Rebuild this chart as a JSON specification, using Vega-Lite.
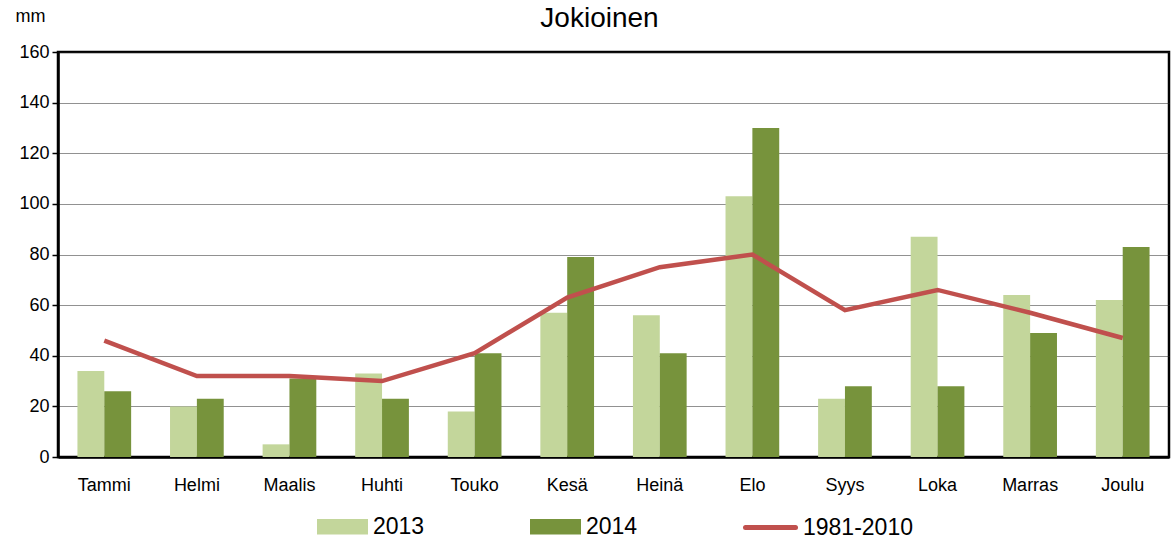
{
  "$schema": "https://vega.github.io/schema/vega-lite/v6.json",
  "width": 1111,
  "height": 405,
  "autosize": "none",
  "padding": {"left": 58, "top": 52, "right": 2, "bottom": 82},
  "background": "white",
  "title": {"text": "Jokioinen", "fontSize": 28, "font": "Liberation Sans", "fontWeight": "normal", "color": "#000", "anchor": "middle", "dx": -14, "offset": -26},
  "config": {
    "font": "Liberation Sans",
    "view": {"stroke": "#000", "strokeWidth": 2.5},
    "axis": {"labelFont": "Liberation Sans", "labelColor": "#000", "labelFontSize": 18},
    "legend": {"labelFont": "Liberation Sans", "labelColor": "#000", "labelFontSize": 23}
  },
  "datasets": {
    "bars": [
      {"month": "Tammi", "year": "2013", "value": 34}, {"month": "Tammi", "year": "2014", "value": 26},
      {"month": "Helmi", "year": "2013", "value": 20}, {"month": "Helmi", "year": "2014", "value": 23},
      {"month": "Maalis", "year": "2013", "value": 5}, {"month": "Maalis", "year": "2014", "value": 31},
      {"month": "Huhti", "year": "2013", "value": 33}, {"month": "Huhti", "year": "2014", "value": 23},
      {"month": "Touko", "year": "2013", "value": 18}, {"month": "Touko", "year": "2014", "value": 41},
      {"month": "Kesä", "year": "2013", "value": 57}, {"month": "Kesä", "year": "2014", "value": 79},
      {"month": "Heinä", "year": "2013", "value": 56}, {"month": "Heinä", "year": "2014", "value": 41},
      {"month": "Elo", "year": "2013", "value": 103}, {"month": "Elo", "year": "2014", "value": 130},
      {"month": "Syys", "year": "2013", "value": 23}, {"month": "Syys", "year": "2014", "value": 28},
      {"month": "Loka", "year": "2013", "value": 87}, {"month": "Loka", "year": "2014", "value": 28},
      {"month": "Marras", "year": "2013", "value": 64}, {"month": "Marras", "year": "2014", "value": 49},
      {"month": "Joulu", "year": "2013", "value": 62}, {"month": "Joulu", "year": "2014", "value": 83}
    ],
    "normal": [
      {"month": "Tammi", "value": 46}, {"month": "Helmi", "value": 32}, {"month": "Maalis", "value": 32},
      {"month": "Huhti", "value": 30}, {"month": "Touko", "value": 41}, {"month": "Kesä", "value": 63},
      {"month": "Heinä", "value": 75}, {"month": "Elo", "value": 80}, {"month": "Syys", "value": 58},
      {"month": "Loka", "value": 66}, {"month": "Marras", "value": 57}, {"month": "Joulu", "value": 47}
    ]
  },
  "encoding": {
    "x": {
      "field": "month", "type": "nominal",
      "sort": ["Tammi","Helmi","Maalis","Huhti","Touko","Kesä","Heinä","Elo","Syys","Loka","Marras","Joulu"],
      "scale": {"paddingInner": 0.42, "paddingOuter": 0.21},
      "axis": {"title": null, "labelAngle": 0, "ticks": false, "labelPadding": 19, "domainColor": "#000", "domainWidth": 2.5}
    },
    "y": {
      "field": "value", "type": "quantitative",
      "scale": {"domain": [0, 160], "nice": false},
      "axis": {
        "title": "mm", "titleAngle": 0, "titleX": -28, "titleY": -36, "titleAlign": "center", "titleBaseline": "middle",
        "titleFontSize": 18, "titleFontWeight": "normal", "titleFont": "Liberation Sans", "titleColor": "#000",
        "values": [0,20,40,60,80,100,120,140,160], "labelOverlap": false,
        "grid": true, "gridColor": "#222", "gridDash": [1, 1], "gridWidth": 1,
        "domainColor": "#000", "domainWidth": 2.5, "tickColor": "#000", "tickSize": 6, "tickWidth": 1.5,
        "labelPadding": 3
      }
    }
  },
  "layer": [
    {
      "data": {"name": "bars"},
      "mark": {"type": "bar", "stroke": null},
      "encoding": {
        "xOffset": {"field": "year", "type": "nominal", "scale": {"paddingInner": 0, "paddingOuter": 0}},
        "color": {
          "field": "year", "type": "nominal",
          "scale": {"domain": ["2013", "2014"], "range": ["#C3D69B", "#77933C"]},
          "legend": {
            "title": null, "orient": "none", "direction": "horizontal", "legendX": 259, "legendY": 449,
            "labelOffset": 5, "symbolSize": 2601, "columnPadding": 105,
            "symbolType": "M-1,-0.3H1V0.3H-1Z", "symbolStrokeWidth": 0, "symbolOpacity": 1
          }
        }
      }
    },
    {
      "data": {"name": "normal"},
      "mark": {"type": "line", "strokeWidth": 4.5},
      "encoding": {
        "stroke": {
          "datum": "1981-2010",
          "scale": {"domain": ["1981-2010"], "range": ["#C0504D"]},
          "legend": {
            "title": null, "orient": "none", "direction": "horizontal", "legendX": 685, "legendY": 448,
            "labelOffset": 5, "symbolSize": 2500, "symbolType": "stroke", "symbolStrokeWidth": 5,
            "encode": {"symbols": {"update": {"strokeCap": {"value": "round"}}}}
          }
        }
      }
    }
  ]
}
